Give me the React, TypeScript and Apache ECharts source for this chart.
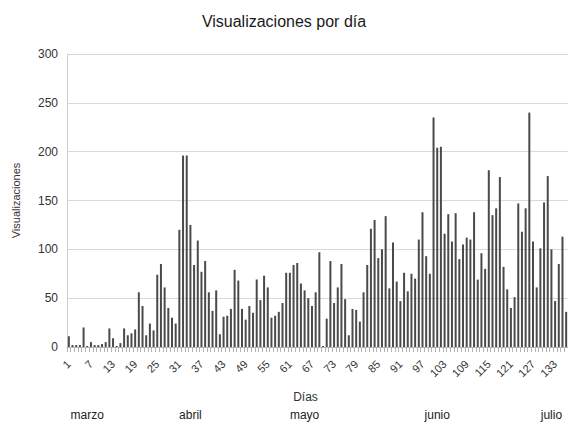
import React, { useEffect, useRef } from "react";
import * as echarts from "echarts";

const TITLE = "Visualizaciones por día";
const X_NAME = "Días";
const Y_NAME = "Visualizaciones";

const values: number[] = [
  11, 2, 2, 2, 20, 1, 5, 2, 2, 3,
  5, 19, 9, 1, 4, 19, 12, 14, 18, 56,
  42, 12, 24, 17, 74, 85, 61, 40, 30, 24,
  120, 196, 196, 125, 84, 109, 77, 88, 56, 37,
  58, 13, 31, 32, 39, 79, 68, 39, 28, 42,
  35, 69, 48, 73, 61, 30, 32, 36, 45, 76,
  76, 84, 86, 65, 58, 50, 42, 56, 97, 1,
  29, 88, 45, 61, 85, 49, 12, 39, 38, 26,
  56, 84, 121, 130, 91, 100, 134, 60, 107, 67,
  47, 76, 57, 75, 70, 110, 138, 93, 75, 235,
  204, 205, 116, 136, 108, 137, 90, 105, 112, 110,
  138, 69, 96, 80, 181, 135, 142, 174, 82, 59,
  40, 51, 147, 118, 142, 240, 108, 61, 101, 148,
  175, 100, 47, 85, 113, 36,
];

const days: string[] = values.map((_, i) => String(i + 1));

const monthNames: string[] = ["marzo", "abril", "mayo", "junio", "julio"];
const monthLabelDays: number[] = [6, 34, 65, 101, 132];

const yTicks = { min: 0, max: 300, interval: 50 };

export default function App() {
  const ref = useRef<HTMLDivElement>(null);
  useEffect(() => {
    document.body.style.margin = "0";
    if (!ref.current) return;
    const chart = echarts.init(ref.current, undefined, { renderer: "svg" });
    const font = "'Liberation Sans', Arial, sans-serif";
    const monthAt: Record<string, string> = {};
    monthLabelDays.forEach((d, i) => (monthAt[String(d)] = monthNames[i]));
    chart.setOption({
      animation: false,
      backgroundColor: "#ffffff",
      textStyle: { fontFamily: font },
      title: {
        text: TITLE,
        left: "center",
        top: 8,
        textStyle: { fontSize: 16, fontWeight: "normal", color: "#1a1a1a", fontFamily: font },
      },
      grid: { left: 67, right: -2, top: 54, bottom: 76, containLabel: false },
      xAxis: [
        {
          type: "category",
          data: days,
          name: X_NAME,
          nameLocation: "middle",
          nameGap: 44,
          nameTextStyle: { fontSize: 12, color: "#333", padding: [0, 24, 0, 0] },
          axisLine: { show: true, lineStyle: { color: "#b3b3b3" } },
          axisTick: { show: true, interval: 0, length: 5, lineStyle: { color: "#b3b3b3" } },
          axisLabel: { interval: 5, rotate: 45, fontSize: 11, color: "#333", margin: 15 },
          splitLine: { show: false },
        },
        {
          type: "category",
          data: days,
          position: "bottom",
          axisLine: { show: false },
          axisTick: { show: false },
          axisLabel: {
            interval: (_i: number, v: string) => v in monthAt,
            formatter: (v: string) => monthAt[v] || "",
            fontSize: 12,
            color: "#222",
            margin: 62,
          },
          splitLine: { show: false },
        },
      ],
      yAxis: {
        type: "value",
        min: yTicks.min,
        max: yTicks.max,
        interval: yTicks.interval,
        name: Y_NAME,
        nameLocation: "middle",
        nameGap: 46,
        nameTextStyle: { fontSize: 11, color: "#333" },
        axisLine: { show: true, lineStyle: { color: "#d0d0d0" } },
        axisTick: { show: false },
        axisLabel: { fontSize: 12, color: "#333", margin: 9 },
        splitLine: { show: true, lineStyle: { color: "#d9d9d9" } },
      },
      series: [
        {
          type: "bar",
          data: values,
          xAxisIndex: 0,
          barWidth: 2,
          itemStyle: { color: "#4a4a4a" },
        },
      ],
    });
    return () => chart.dispose();
  }, []);
  return <div ref={ref} style={{ width: 568, height: 423 }} />;
}
